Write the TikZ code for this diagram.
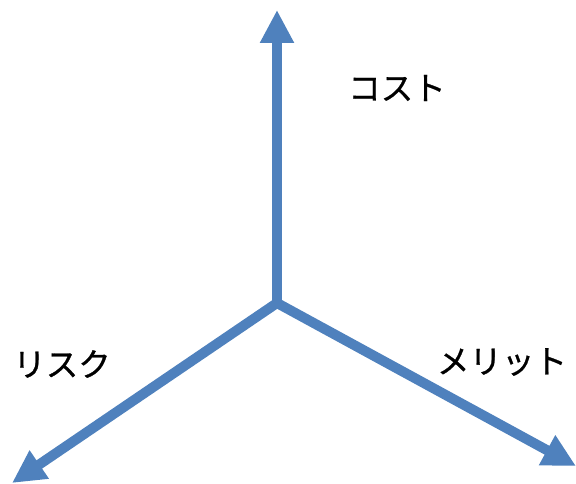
\documentclass[tikz,border=0pt]{standalone}
\usepackage{fontspec}
\newfontfamily\jpfont[FakeBold=0.8]{Noto Sans CJK JP}
\usetikzlibrary{arrows.meta}
\definecolor{axisblue}{HTML}{4F81BD}
\tikzset{
    axis/.style={draw=axisblue, line width=0.2cm, -{Triangle[length=0.66cm, width=0.64cm]}},
    axislabel/.style={font=\jpfont\fontsize{18.5pt}{20pt}\selectfont, inner sep=0pt}
}
\begin{document}
\begin{tikzpicture}[x=0.02cm, y=-0.02cm]
    \useasboundingbox (0,0) rectangle (576,484);

    %mark the centre and the axis ends
        \coordinate (O) at (277,303);
        \coordinate (cost) at (277,10);
        \coordinate (risk) at (12,483);
        \coordinate (merit) at (576,466);

    %draw the three axes
        \draw[axis] (O) -- (cost);
        \draw[axis] (O) -- (risk);
        \draw[axis] (O) -- (merit);

    %axis labels
        \node[axislabel] (costlabel) at (397,88) {コスト};
        \node[axislabel] (risklabel) at (62,364) {リスク};
        \node[axislabel] (meritlabel) at (502,362) {メリット};
\end{tikzpicture}
\end{document}
